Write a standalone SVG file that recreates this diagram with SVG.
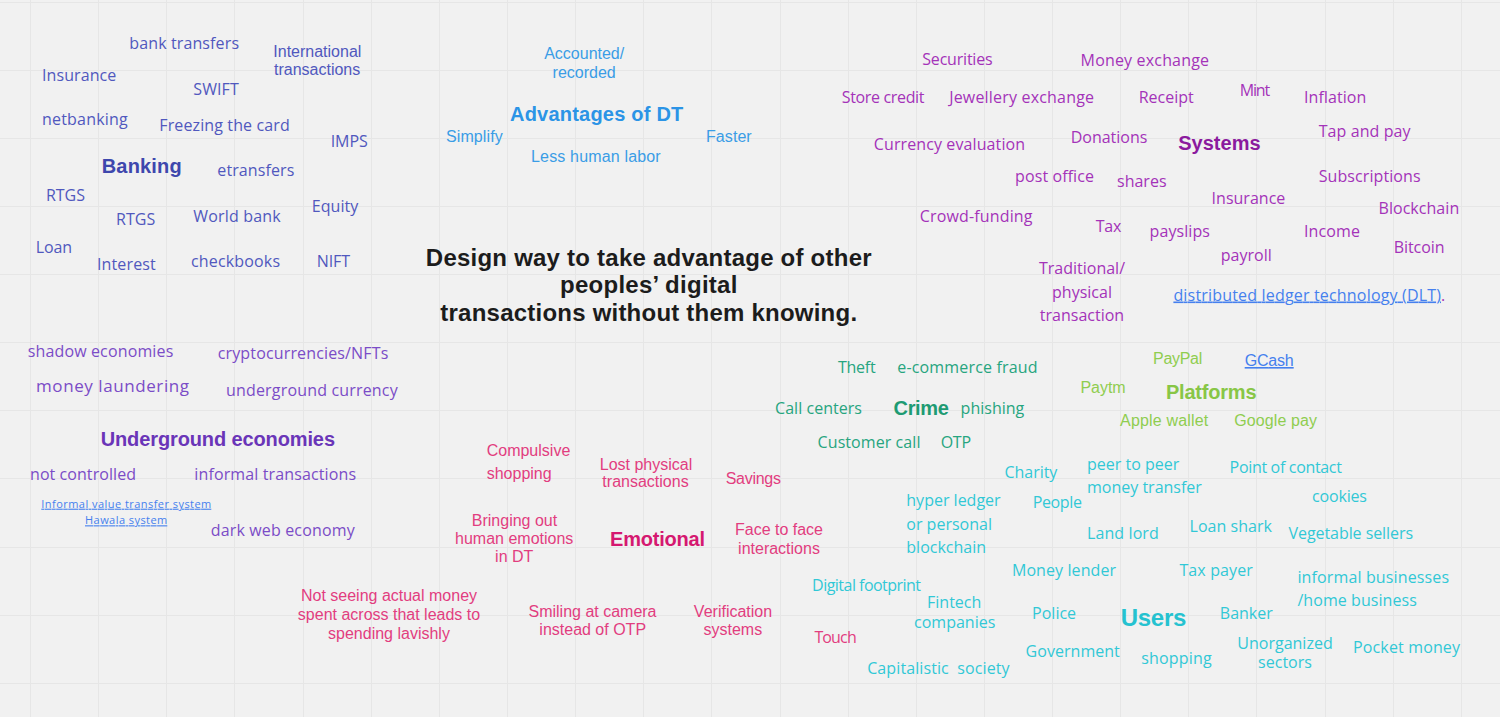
<svg xmlns="http://www.w3.org/2000/svg" width="1500" height="717" viewBox="0 0 1500 717">
<defs>
<style>
.os{font-family:"Open Sans","Liberation Sans",sans-serif;font-size:16px}
.ar{font-family:"Liberation Sans",Arial,sans-serif;font-size:16px}
.hd{font-family:"Liberation Sans",Arial,sans-serif;font-size:20px;font-weight:bold}
.tt{font-family:"Liberation Sans",Arial,sans-serif;font-size:24px;font-weight:bold;fill:#1c1c1c}
.lk{fill:#4580ee;text-decoration:underline}
.bank{fill:#5058be}.bankb{fill:#3e47ad}
.adv{fill:#3a9de6}.advb{fill:#2b94e6}
.sys{fill:#a433b9}.sysb{fill:#8b1a9e}
.und{fill:#7b4cc7}.undb{fill:#6a35b8}
.emo{fill:#e23d7f}.emob{fill:#d51870}
.cri{fill:#27a57f}.crib{fill:#1e9b73}
.pla{fill:#8fcd4f}.plab{fill:#88c646}
.usr{fill:#31c8d6}.usrb{fill:#25c2d0}
.grid line{stroke:#e6e6e6;stroke-width:1}
</style>
</defs>
<rect width="1500" height="717" fill="#f1f1f1"/>
<g class="grid">
<line x1="30.5" y1="0" x2="30.5" y2="717"/><line x1="98.5" y1="0" x2="98.5" y2="717"/><line x1="166.5" y1="0" x2="166.5" y2="717"/><line x1="234.5" y1="0" x2="234.5" y2="717"/><line x1="303.5" y1="0" x2="303.5" y2="717"/><line x1="371.5" y1="0" x2="371.5" y2="717"/><line x1="439.5" y1="0" x2="439.5" y2="717"/><line x1="507.5" y1="0" x2="507.5" y2="717"/><line x1="575.5" y1="0" x2="575.5" y2="717"/><line x1="643.5" y1="0" x2="643.5" y2="717"/><line x1="711.5" y1="0" x2="711.5" y2="717"/><line x1="780.5" y1="0" x2="780.5" y2="717"/><line x1="848.5" y1="0" x2="848.5" y2="717"/><line x1="916.5" y1="0" x2="916.5" y2="717"/><line x1="984.5" y1="0" x2="984.5" y2="717"/><line x1="1052.5" y1="0" x2="1052.5" y2="717"/><line x1="1120.5" y1="0" x2="1120.5" y2="717"/><line x1="1188.5" y1="0" x2="1188.5" y2="717"/><line x1="1256.5" y1="0" x2="1256.5" y2="717"/><line x1="1325.5" y1="0" x2="1325.5" y2="717"/><line x1="1393.5" y1="0" x2="1393.5" y2="717"/><line x1="1461.5" y1="0" x2="1461.5" y2="717"/>
<line x1="0" y1="2.5" x2="1500" y2="2.5"/><line x1="0" y1="70.5" x2="1500" y2="70.5"/><line x1="0" y1="138.5" x2="1500" y2="138.5"/><line x1="0" y1="206.5" x2="1500" y2="206.5"/><line x1="0" y1="274.5" x2="1500" y2="274.5"/><line x1="0" y1="342.5" x2="1500" y2="342.5"/><line x1="0" y1="410.5" x2="1500" y2="410.5"/><line x1="0" y1="478.5" x2="1500" y2="478.5"/><line x1="0" y1="547.5" x2="1500" y2="547.5"/><line x1="0" y1="615.5" x2="1500" y2="615.5"/><line x1="0" y1="683.5" x2="1500" y2="683.5"/>
</g>
<g id="connectors"/>

<g id="title"><text class="tt" text-anchor="middle"><tspan x="648.7" y="265.5" textLength="445.7">Design way to take advantage of other</tspan><tspan x="648.7" y="293" textLength="177.3">peoples’ digital</tspan><tspan x="648.7" y="320.5" textLength="416.7">transactions without them knowing.</tspan></text></g>

<g id="banking-cluster">
<g id="bank-transfers"><text class="os bank" x="129.3" y="48.5" textLength="109.7">bank transfers</text></g>
<g id="international-transactions"><text class="ar bank"><tspan x="273.3" y="56.5">International</tspan><tspan x="274" y="75">transactions</tspan></text></g>
<g id="bank-insurance"><text class="os bank" x="42" y="81" textLength="74.3">Insurance</text></g>
<g id="swift"><text class="os bank" x="193.3" y="95" textLength="45.4">SWIFT</text></g>
<g id="netbanking"><text class="os bank" x="42" y="124.5" textLength="85.7">netbanking</text></g>
<g id="freezing"><text class="os bank" x="159.3" y="130.5" textLength="130.4">Freezing the card</text></g>
<g id="imps"><text class="os bank" x="330.7" y="147" textLength="37">IMPS</text></g>
<g id="banking"><text class="hd bankb" x="101.7" y="172.5" textLength="80">Banking</text></g>
<g id="etransfers"><text class="os bank" x="217.3" y="175.5" textLength="77">etransfers</text></g>
<g id="rtgs-1"><text class="os bank" x="46" y="201" textLength="39">RTGS</text></g>
<g id="rtgs-2"><text class="os bank" x="116" y="225" textLength="39.3">RTGS</text></g>
<g id="world-bank"><text class="os bank" x="193.3" y="222" textLength="87.4">World bank</text></g>
<g id="equity"><text class="os bank" x="311.7" y="212" textLength="46.6">Equity</text></g>
<g id="loan"><text class="os bank" x="35.7" y="253" textLength="36.3">Loan</text></g>
<g id="interest"><text class="os bank" x="97" y="270" textLength="58.7">Interest</text></g>
<g id="checkbooks"><text class="os bank" x="191" y="266.5" textLength="89">checkbooks</text></g>
<g id="nift"><text class="os bank" x="316.7" y="266.5" textLength="33.3">NIFT</text></g>
</g>

<g id="advantages-cluster">
<g id="accounted"><text class="ar adv" text-anchor="middle"><tspan x="584.2" y="59">Accounted/</tspan><tspan x="584.2" y="77.5">recorded</tspan></text></g>
<g id="advantages"><text class="hd advb" x="510" y="120.5" textLength="173.3">Advantages of DT</text></g>
<g id="simplify"><text class="ar adv" x="446" y="141.5" textLength="56.7">Simplify</text></g>
<g id="faster"><text class="ar adv" x="706" y="141.5" textLength="45.7">Faster</text></g>
<g id="less-labor"><text class="ar adv" x="531" y="161.5" textLength="129.7">Less human labor</text></g>
</g>

<g id="systems-cluster">
<g id="securities"><text class="os sys" x="922.3" y="65" textLength="70.3">Securities</text></g>
<g id="money-exchange"><text class="os sys" x="1080.6" y="65.5" textLength="128.4">Money exchange</text></g>
<g id="store-credit"><text class="os sys" x="841.7" y="103" textLength="82.8">Store credit</text></g>
<g id="jewellery"><text class="os sys" x="949.2" y="103" textLength="144.8">Jewellery exchange</text></g>
<g id="receipt"><text class="os sys" x="1138.7" y="103" textLength="55.1">Receipt</text></g>
<g id="mint"><text class="os sys" x="1239.8" y="96" textLength="30.3">Mint</text></g>
<g id="inflation"><text class="os sys" x="1304" y="103" textLength="62.4">Inflation</text></g>
<g id="currency-eval"><text class="os sys" x="873.8" y="150" textLength="151.3">Currency evaluation</text></g>
<g id="donations"><text class="os sys" x="1070.7" y="143" textLength="76.7">Donations</text></g>
<g id="systems"><text class="hd sysb" x="1178.2" y="149.5" textLength="82.4">Systems</text></g>
<g id="tap-pay"><text class="os sys" x="1318.7" y="137" textLength="91.9">Tap and pay</text></g>
<g id="post-office"><text class="os sys" x="1015.1" y="182" textLength="78.9">post office</text></g>
<g id="shares"><text class="os sys" x="1117" y="187" textLength="49.5">shares</text></g>
<g id="subscriptions"><text class="os sys" x="1318.7" y="182" textLength="101.9">Subscriptions</text></g>
<g id="sys-insurance"><text class="os sys" x="1211.6" y="203.5" textLength="73.7">Insurance</text></g>
<g id="blockchain"><text class="os sys" x="1378.5" y="213.5" textLength="80.7">Blockchain</text></g>
<g id="crowdfunding"><text class="os sys" x="919.7" y="221.5" textLength="112.8">Crowd-funding</text></g>
<g id="tax"><text class="os sys" x="1095.8" y="231.5" textLength="25.6">Tax</text></g>
<g id="payslips"><text class="os sys" x="1149.6" y="236.5" textLength="60.3">payslips</text></g>
<g id="income"><text class="os sys" x="1304" y="236.5" textLength="55.9">Income</text></g>
<g id="payroll"><text class="os sys" x="1220.7" y="260.5" textLength="51.2">payroll</text></g>
<g id="bitcoin"><text class="os sys" x="1393.7" y="252.5" textLength="50.8">Bitcoin</text></g>
<g id="traditional"><text class="os sys" text-anchor="middle"><tspan x="1082" y="273.5">Traditional/</tspan><tspan x="1082" y="297.5">physical</tspan><tspan x="1082" y="321">transaction</tspan></text></g>
<g id="dlt"><text class="os lk" x="1173.4" y="300.5" textLength="267.6">distributed ledger technology (DLT)</text><text class="os sys" x="1441" y="300.5">.</text></g>
</g>

<g id="underground-cluster">
<g id="shadow"><text class="os und" x="27.7" y="356.5" textLength="145.6">shadow economies</text></g>
<g id="crypto"><text class="os und" x="217.7" y="358.5" textLength="170.6">cryptocurrencies/NFTs</text></g>
<g id="laundering"><text class="os und" style="font-size:17px" x="36" y="392" textLength="153">money laundering</text></g>
<g id="ug-currency"><text class="os und" x="226" y="395.5" textLength="171.7">underground currency</text></g>
<g id="underground"><text class="hd undb" x="100.7" y="445.5" textLength="234.3">Underground economies</text></g>
<g id="not-controlled"><text class="os und" x="30" y="480" textLength="106">not controlled</text></g>
<g id="informal-tx"><text class="os und" x="194.3" y="480" textLength="161.7">informal transactions</text></g>
<g id="ivts"><text class="os lk" style="font-size:11px" x="41.3" y="507.7" textLength="170">Informal value transfer system</text><text class="os lk" style="font-size:11px" x="85" y="524.3" textLength="82.3">Hawala system</text></g>
<g id="dark-web"><text class="os und" x="210.7" y="536" textLength="144">dark web economy</text></g>
</g>

<g id="emotional-cluster">
<g id="compulsive"><text class="ar emo"><tspan x="486.7" y="456">Compulsive</tspan><tspan x="486.7" y="478.5">shopping</tspan></text></g>
<g id="lost-physical"><text class="ar emo" text-anchor="middle"><tspan x="646" y="469.5">Lost physical</tspan><tspan x="645.5" y="487">transactions</tspan></text></g>
<g id="savings"><text class="ar emo" x="725.7" y="483.5" textLength="55.3">Savings</text></g>
<g id="bringing"><text class="ar emo" text-anchor="middle"><tspan x="514.5" y="525.5">Bringing out</tspan><tspan x="514.2" y="543.5">human emotions</tspan><tspan x="514.2" y="562">in DT</tspan></text></g>
<g id="emotional"><text class="hd emob" x="610" y="545.5" textLength="95">Emotional</text></g>
<g id="face"><text class="ar emo" text-anchor="middle"><tspan x="779" y="535">Face to face</tspan><tspan x="779" y="553.5">interactions</tspan></text></g>
<g id="not-seeing"><text class="ar emo" text-anchor="middle"><tspan x="389" y="601">Not seeing actual money</tspan><tspan x="389" y="619.5">spent across that leads to</tspan><tspan x="389" y="638.5">spending lavishly</tspan></text></g>
<g id="smiling"><text class="ar emo" text-anchor="middle"><tspan x="592.5" y="617">Smiling at camera</tspan><tspan x="592.7" y="635">instead of OTP</tspan></text></g>
<g id="verification"><text class="ar emo" text-anchor="middle"><tspan x="733" y="617">Verification</tspan><tspan x="732.8" y="635">systems</tspan></text></g>
<g id="touch"><text class="os emo" x="814.4" y="642.7" textLength="42.3">Touch</text></g>
</g>

<g id="crime-cluster">
<g id="theft"><text class="os cri" x="837.9" y="373" textLength="37.7">Theft</text></g>
<g id="ecommerce"><text class="os cri" x="897.3" y="373" textLength="140.2">e-commerce fraud</text></g>
<g id="call-centers"><text class="os cri" x="775.1" y="413.7" textLength="86.8">Call centers</text></g>
<g id="crime"><text class="hd crib" x="893.6" y="414.5" textLength="55.2">Crime</text></g>
<g id="phishing"><text class="os cri" x="960.6" y="413.7" textLength="63.7">phishing</text></g>
<g id="customer-call"><text class="os cri" x="817.6" y="447.7" textLength="102.9">Customer call</text></g>
<g id="otp"><text class="os cri" x="940.7" y="447.7" textLength="30.3">OTP</text></g>
</g>

<g id="platforms-cluster">
<g id="paypal"><text class="ar pla" x="1153.1" y="363.5" textLength="49.1">PayPal</text></g>
<g id="gcash"><text class="ar lk" x="1244.7" y="366" textLength="49">GCash</text></g>
<g id="paytm"><text class="ar pla" x="1080.4" y="393" textLength="45.3">Paytm</text></g>
<g id="platforms"><text class="hd plab" x="1165.9" y="398.7" textLength="90.6">Platforms</text></g>
<g id="apple-wallet"><text class="ar pla" x="1120.1" y="426" textLength="88.2">Apple wallet</text></g>
<g id="google-pay"><text class="ar pla" x="1234.3" y="426" textLength="82.6">Google pay</text></g>
</g>

<g id="users-cluster">
<g id="charity"><text class="os usr" x="1004.5" y="477.7" textLength="52.8">Charity</text></g>
<g id="p2p"><text class="os usr"><tspan x="1087" y="469.7">peer to peer</tspan><tspan x="1087" y="492.5">money transfer</tspan></text></g>
<g id="point-contact"><text class="os usr" x="1229.6" y="472.7" textLength="112.3">Point of contact</text></g>
<g id="cookies"><text class="os usr" x="1312.1" y="501.7" textLength="54.8">cookies</text></g>
<g id="hyper-ledger"><text class="os usr"><tspan x="906.3" y="506">hyper ledger</tspan><tspan x="906.3" y="529.7">or personal</tspan><tspan x="906.3" y="553">blockchain</tspan></text></g>
<g id="people"><text class="os usr" x="1032.8" y="508.3" textLength="49.1">People</text></g>
<g id="land-lord"><text class="os usr" x="1087" y="538.5" textLength="71.8">Land lord</text></g>
<g id="loan-shark"><text class="os usr" x="1189.5" y="532" textLength="82.5">Loan shark</text></g>
<g id="vegetable"><text class="os usr" x="1288.5" y="539" textLength="124.6">Vegetable sellers</text></g>
<g id="money-lender"><text class="os usr" x="1011.9" y="575.7" textLength="104.2">Money lender</text></g>
<g id="tax-payer"><text class="os usr" x="1179.4" y="575.7" textLength="73.5">Tax payer</text></g>
<g id="informal-biz"><text class="os usr"><tspan x="1297.4" y="582.5" textLength="151.6">informal businesses</tspan><tspan x="1297.4" y="605.5" textLength="119.4">/home business</tspan></text></g>
<g id="digital-footprint"><text class="os usr" x="812.1" y="590.7" textLength="108.9">Digital footprint</text></g>
<g id="fintech"><text class="os usr" text-anchor="middle"><tspan x="954.2" y="608">Fintech</tspan><tspan x="954.7" y="627.5">companies</tspan></text></g>
<g id="police"><text class="os usr" x="1032.1" y="618.5" textLength="44">Police</text></g>
<g id="users"><text class="usrb" style="font-family:'Liberation Sans',Arial,sans-serif;font-size:24px;font-weight:bold" x="1120.7" y="625.5" textLength="65.6">Users</text></g>
<g id="banker"><text class="os usr" x="1219.8" y="618.5" textLength="52.9">Banker</text></g>
<g id="government"><text class="os usr" x="1025.6" y="657" textLength="94.2">Government</text></g>
<g id="shopping"><text class="os usr" x="1141.3" y="663.5" textLength="70.3">shopping</text></g>
<g id="unorganized"><text class="os usr" text-anchor="middle"><tspan x="1285" y="648.5">Unorganized</tspan><tspan x="1285" y="667.5">sectors</tspan></text></g>
<g id="pocket-money"><text class="os usr" x="1353" y="653" textLength="107">Pocket money</text></g>
<g id="capitalistic"><text class="os usr" style="white-space:pre" x="867.2" y="673.5" textLength="142.4">Capitalistic  society</text></g>
</g>
</svg>
